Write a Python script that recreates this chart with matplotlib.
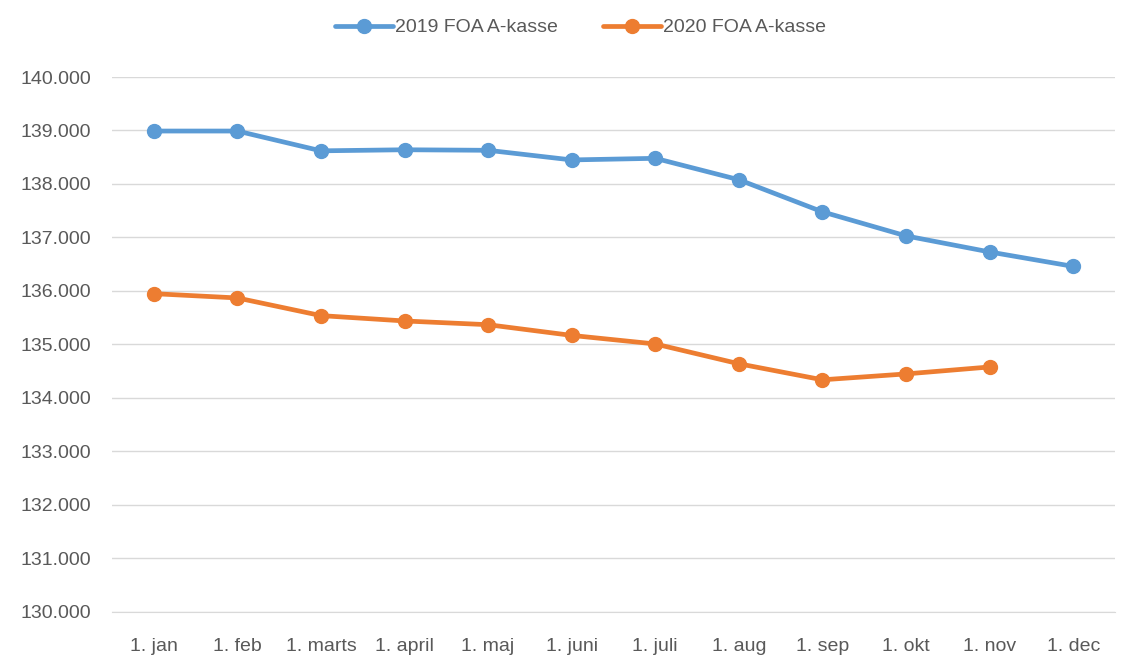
import matplotlib
matplotlib.use("Agg")
import matplotlib.pyplot as plt

plt.rcParams['font.family'] = ['Liberation Sans', 'DejaVu Sans']

months = ["1. jan", "1. feb", "1. marts", "1. april", "1. maj", "1. juni",
          "1. juli", "1. aug", "1. sep", "1. okt", "1. nov", "1. dec"]
foa_2019 = [138990, 138990, 138620, 138640, 138630, 138450,
            138480, 138080, 137480, 137030, 136730, 136460]
foa_2020 = [135950, 135870, 135540, 135440, 135370, 135170,
            135010, 134640, 134340, 134450, 134580]

blue = '#5B9BD5'
orange = '#ED7D31'
txt = '#595959'

fig = plt.figure(figsize=(11.21, 6.57), dpi=100)
ax = fig.add_axes([0.0999, 0.0685, 0.8947, 0.8143])

x19 = list(range(len(foa_2019)))
x20 = list(range(len(foa_2020)))
ax.plot(x19, foa_2019, color=blue, lw=3.4, marker='o', ms=10,
        label='2019 FOA A-kasse', solid_capstyle='round')
ax.plot(x20, foa_2020, color=orange, lw=3.4, marker='o', ms=10,
        label='2020 FOA A-kasse', solid_capstyle='round')

ax.set_xlim(-0.5, len(months) - 0.5)
ax.set_ylim(130000, 140000)
ax.set_xticks(range(len(months)))
ax.set_xticklabels(months)
yt = list(range(130000, 140001, 1000))
ax.set_yticks(yt)
ax.set_yticklabels([f"{v // 1000}.{v % 1000:03d}" for v in yt])
ax.tick_params(axis='both', length=0, labelsize=14, colors=txt)
ax.tick_params(axis='y', pad=15)
ax.tick_params(axis='x', pad=19)
ax.grid(axis='y', color='#D9D9D9', lw=1)
ax.set_axisbelow(True)
for s in ['top', 'right', 'left']:
    ax.spines[s].set_visible(False)
ax.spines['bottom'].set_color('#D9D9D9')

leg = fig.legend(loc='center', bbox_to_anchor=(0.518, 0.958), ncol=2, frameon=False,
                 fontsize=14, handlelength=3, columnspacing=2.3, handletextpad=0.1)
for t in leg.get_texts():
    t.set_color(txt)

fig.savefig('out.png', dpi=100)
